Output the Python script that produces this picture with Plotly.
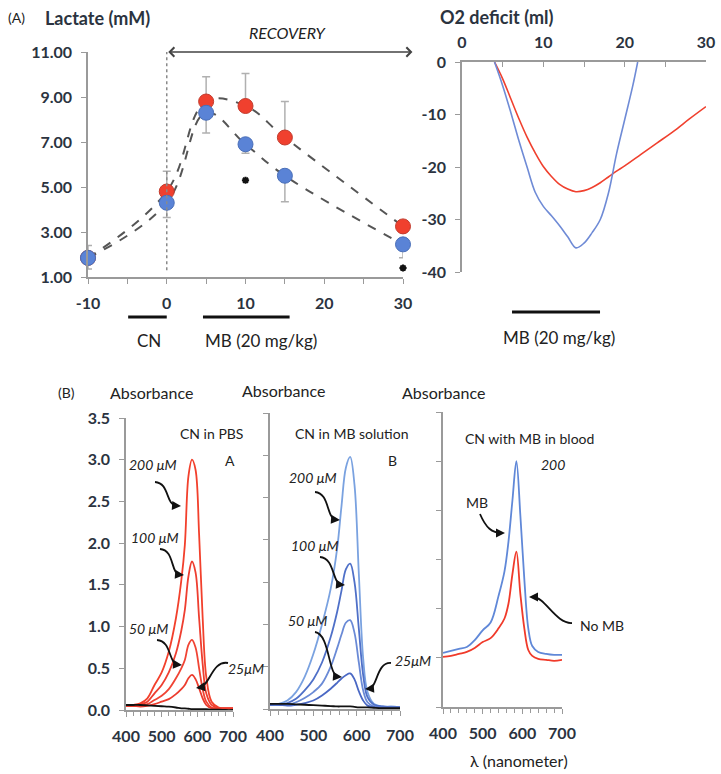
import math
import plotly.graph_objects as go

W, H = 721, 774

# ---------------- Panel A: lactate ----------------
time_min = [-10, 0, 5, 10, 15, 30]
lactate_no_mb = [1.85, 4.8, 8.8, 8.6, 7.2, 3.25]
lactate_mb = [1.85, 4.3, 8.3, 6.9, 5.5, 2.45]
err_no_mb_up = [0.55, 0.9, 1.1, 1.45, 1.6, 0.15]
err_mb_down = [0.5, 0.65, 0.9, 0.4, 1.15, 0.6]
signif_time = [10, 30]
signif_level = [5.3, 1.4]
lactate_ticks = [1, 3, 5, 7, 9, 11]
time_ticks = [-10, 0, 10, 20, 30]
time_ticktext = ["-10", "0", "10", "20", "30"]

# ---------------- Panel A: O2 deficit ----------------
o2_time_no_mb = [4, 5, 6, 7, 8, 9, 10, 11, 12, 13, 14, 15, 16, 17, 18, 19, 20, 22, 24, 26, 28, 30]
o2_no_mb = [0, -3.2, -7, -10.8, -14.3, -17.3, -19.9, -21.8, -23.3, -24.2, -24.7, -24.5,
            -23.9, -23.0, -21.9, -20.8, -19.8, -17.6, -15.4, -13.2, -10.8, -8.5]
o2_time_mb = [4, 5, 6, 7, 8, 9, 10, 11, 12, 13, 14, 15, 16, 17, 18, 19, 20, 21, 21.6]
o2_mb = [0, -4.5, -9.6, -15, -20, -24.8, -27.5, -29.3, -31.2, -33.3, -35.4, -34.5,
         -32.5, -30, -25, -17.5, -11, -4.5, 0]
o2_xticks = [0, 10, 20, 30]
o2_yticks = [0, -10, -20, -30, -40]
o2_yticktext = ["0", "-10", "-20", "-30", "-40"]

# ---------------- Panel B: spectra ----------------
wavelength = [400, 420, 440, 460, 480, 500, 520, 540, 555, 565, 575, 585, 595, 605, 615, 625, 640, 660, 680, 700]
pbs_200 = [0.05, 0.06, 0.08, 0.14, 0.30, 0.45, 0.70, 1.10, 1.55, 1.98, 2.80, 3.00, 2.88, 2.10, 1.10, 0.40, 0.10, 0.03, 0.02, 0.02]
pbs_100 = [0.05, 0.05, 0.07, 0.10, 0.20, 0.30, 0.45, 0.68, 0.95, 1.20, 1.60, 1.78, 1.65, 1.10, 0.55, 0.20, 0.06, 0.02, 0.02, 0.02]
pbs_50 = [0.05, 0.05, 0.05, 0.07, 0.12, 0.17, 0.25, 0.38, 0.50, 0.60, 0.78, 0.84, 0.75, 0.50, 0.25, 0.10, 0.03, 0.02, 0.02, 0.02]
pbs_25 = [0.05, 0.05, 0.04, 0.05, 0.07, 0.10, 0.13, 0.19, 0.25, 0.30, 0.38, 0.42, 0.37, 0.26, 0.14, 0.06, 0.02, 0.02, 0.02, 0.02]
pbs_blank = [0.06, 0.06, 0.06, 0.055, 0.05, 0.045, 0.04, 0.03, 0.02, 0.02, 0.015, 0.01, 0.01, 0.01, 0.01, 0.01, 0.005, 0.005, 0.0, 0.0]

mbs_200 = [0.05, 0.06, 0.10, 0.20, 0.38, 0.65, 1.00, 1.42, 1.90, 2.40, 2.85, 2.98, 2.65, 1.60, 0.60, 0.20, 0.06, 0.03, 0.03, 0.02]
mbs_100 = [0.05, 0.05, 0.07, 0.12, 0.22, 0.35, 0.55, 0.85, 1.15, 1.40, 1.65, 1.72, 1.50, 0.95, 0.40, 0.14, 0.05, 0.03, 0.02, 0.02]
mbs_50 = [0.05, 0.05, 0.05, 0.08, 0.13, 0.20, 0.30, 0.50, 0.72, 0.88, 1.02, 1.05, 0.90, 0.55, 0.22, 0.08, 0.03, 0.02, 0.02, 0.02]
mbs_25 = [0.05, 0.05, 0.04, 0.05, 0.07, 0.10, 0.16, 0.24, 0.31, 0.36, 0.40, 0.42, 0.35, 0.21, 0.10, 0.04, 0.02, 0.02, 0.02, 0.02]
mbs_blank = [0.06, 0.06, 0.06, 0.055, 0.05, 0.045, 0.04, 0.035, 0.03, 0.03, 0.03, 0.03, 0.025, 0.02, 0.02, 0.02, 0.015, 0.01, 0.01, 0.01]

blood_mb = [0.55, 0.57, 0.59, 0.61, 0.68, 0.78, 0.86, 1.13, 1.38, 1.68, 2.10, 2.50, 1.95, 1.30, 0.80, 0.62, 0.56, 0.54, 0.53, 0.53]
blood_no_mb = [0.51, 0.52, 0.54, 0.56, 0.60, 0.66, 0.70, 0.80, 0.90, 1.05, 1.35, 1.58, 1.15, 0.80, 0.58, 0.52, 0.49, 0.48, 0.47, 0.48]

abs_ticks = [0, 0.5, 1.0, 1.5, 2.0, 2.5, 3.0, 3.5]
wl_ticks = [400, 500, 600, 700]

# ---------------- colours / fonts ----------------
RED = "#f0402e"
BLUE = "#5a83d6"
FONT = "Lato"
TXT = "#222222"
TICKTXT = "#2b3340"


def px(x):
    return x / W


def py(y):
    return 1 - y / H


fig = go.Figure()

# ---- Panel A lactate ----
for ys in (lactate_no_mb, lactate_mb):
    fig.add_trace(go.Scatter(x=time_min, y=ys, mode="lines",
                             line=dict(color="#555", width=2, dash="dash", shape="spline", smoothing=1.1),
                             xaxis="x", yaxis="y", showlegend=False, hoverinfo="skip"))
fig.add_trace(go.Scatter(x=time_min, y=lactate_no_mb, mode="markers",
                         marker=dict(size=15, color=RED, line=dict(color="#c23a2c", width=1)),
                         error_y=dict(type="data", symmetric=False, array=err_no_mb_up, arrayminus=[0] * 6,
                                      color="#b0b0b0", thickness=1.5, width=4),
                         xaxis="x", yaxis="y", showlegend=False, cliponaxis=False))
fig.add_trace(go.Scatter(x=time_min, y=lactate_mb, mode="markers",
                         marker=dict(size=15, color=BLUE, line=dict(color="#4a6fb8", width=1)),
                         error_y=dict(type="data", symmetric=False, array=[0] * 6, arrayminus=err_mb_down,
                                      color="#b0b0b0", thickness=1.5, width=4),
                         xaxis="x", yaxis="y", showlegend=False, cliponaxis=False))
fig.add_trace(go.Scatter(x=signif_time, y=signif_level, mode="markers",
                         marker=dict(symbol="asterisk-open", size=6, color="#111", line=dict(width=2, color="#111")),
                         xaxis="x", yaxis="y", showlegend=False, cliponaxis=False))

# ---- Panel A O2 deficit ----
fig.add_trace(go.Scatter(x=o2_time_no_mb, y=o2_no_mb, mode="lines", line=dict(color=RED, width=1.6, shape="spline"),
                         xaxis="x2", yaxis="y2", showlegend=False))
fig.add_trace(go.Scatter(x=o2_time_mb, y=o2_mb, mode="lines", line=dict(color="#6f8bd6", width=1.6, shape="spline"),
                         xaxis="x2", yaxis="y2", showlegend=False))

# ---- Panel B spectra ----
for ys, col in [(pbs_200, "#f2402c"), (pbs_100, "#ee3e30"), (pbs_50, "#f04434"), (pbs_25, "#ec3c2e")]:
    fig.add_trace(go.Scatter(x=wavelength, y=ys, mode="lines", line=dict(color=col, width=1.8, shape="spline"),
                             xaxis="x3", yaxis="y3", showlegend=False))
fig.add_trace(go.Scatter(x=wavelength, y=pbs_blank, mode="lines", line=dict(color="#111", width=1.8, shape="spline"),
                         xaxis="x3", yaxis="y3", showlegend=False))

for ys, col in [(mbs_200, "#7aa2e0"), (mbs_100, "#4f70c8"), (mbs_50, "#6a8ad6"), (mbs_25, "#4a68c4")]:
    fig.add_trace(go.Scatter(x=wavelength, y=ys, mode="lines", line=dict(color=col, width=1.8, shape="spline"),
                             xaxis="x4", yaxis="y4", showlegend=False))
fig.add_trace(go.Scatter(x=wavelength, y=mbs_blank, mode="lines", line=dict(color="#111", width=1.8, shape="spline"),
                         xaxis="x4", yaxis="y4", showlegend=False))

fig.add_trace(go.Scatter(x=wavelength, y=blood_no_mb, mode="lines", line=dict(color="#f03a2a", width=1.8, shape="spline"),
                         xaxis="x5", yaxis="y5", showlegend=False))
fig.add_trace(go.Scatter(x=wavelength, y=blood_mb, mode="lines", line=dict(color="#6088d8", width=1.8, shape="spline"),
                         xaxis="x5", yaxis="y5", showlegend=False))

tickfont = dict(family=FONT, size=16, color=TICKTXT, weight="bold")
axline = dict(showline=True, linecolor="#9a9a9a", linewidth=1.5, showgrid=False, zeroline=False, automargin=False,
              ticks="outside", tickcolor="#9a9a9a", ticklen=5, tickwidth=1.2, tickfont=tickfont,
              ticklabelstandoff=6)
minor5 = dict(dtick=5, ticks="outside", ticklen=5, tickcolor="#9a9a9a")
minor20 = dict(dtick=20, ticks="outside", ticklen=4, tickcolor="#9a9a9a")

fig.update_layout(
    width=W, height=H,
    margin=dict(l=0, r=0, t=0, b=0),
    paper_bgcolor="white", plot_bgcolor="white",
    font=dict(family=FONT, color=TXT),
    xaxis=dict(domain=[px(88), px(403)], range=[-10, 30], anchor="y", tickvals=time_ticks, ticktext=time_ticktext,
               minor=minor5, **axline),
    yaxis=dict(domain=[py(277), py(52)], range=[1, 11], anchor="x", tickvals=lactate_ticks, tickformat=".2f", **axline),
    xaxis2=dict(domain=[px(462), px(706)], range=[0, 30], anchor="y2", side="top", tickvals=o2_xticks,
                minor=dict(dtick=5, ticks="inside", ticklen=5, tickcolor="#9a9a9a"),
                **{**axline, "ticks": "inside"}),
    yaxis2=dict(domain=[py(272), py(62)], range=[-40, 0], anchor="x2", tickvals=o2_yticks, ticktext=o2_yticktext, **axline),
    xaxis3=dict(domain=[px(126), px(233)], range=[400, 700], anchor="y3", tickvals=wl_ticks, minor=minor20, **axline),
    yaxis3=dict(domain=[py(710), py(418)], range=[0, 3.5], anchor="x3", tickvals=abs_ticks, tickformat=".1f", **axline),
    xaxis4=dict(domain=[px(270), px(400)], range=[400, 700], anchor="y4", tickvals=wl_ticks, minor=minor20, **axline),
    yaxis4=dict(domain=[py(709), py(413)], range=[0, 3.5], anchor="x4", tickvals=abs_ticks, showticklabels=False, **axline),
    xaxis5=dict(domain=[px(443), px(562)], range=[400, 700], anchor="y5", tickvals=wl_ticks, minor=minor20, **axline),
    yaxis5=dict(domain=[py(707), py(412)], range=[0, 3.0], anchor="x5", dtick=0.5, showticklabels=False, **axline),
)

shapes = []
annotations = []

# dotted vertical line at time 0
shapes.append(dict(type="line", xref="x", yref="y", x0=0, x1=0, y0=1.3, y1=11,
                   line=dict(color="#8a8a8a", width=1.5, dash="dot")))
# treatment bars
for x0, x1, xr, ypix in [(-4.9, 0, "x", 317), (4.6, 15.6, "x", 317), (6.15, 16.97, "x2", 312)]:
    shapes.append(dict(type="line", xref=xr, yref="paper", x0=x0, x1=x1, y0=py(ypix), y1=py(ypix),
                       line=dict(color="#111", width=3)))

# RECOVERY arrow
annotations.append(dict(x=31.2, y=11, ax=0, ay=11, xref="x", yref="y", axref="x", ayref="y", text="",
                        showarrow=True, arrowhead=4, startarrowhead=4, arrowside="end+start",
                        arrowsize=1.2, startarrowsize=1.2, arrowwidth=1.5, arrowcolor="#444"))


def label(x, y, text, size=13, italic=False, color=TXT, weight="normal"):
    annotations.append(dict(x=px(x), y=py(y), xref="paper", yref="paper", text=text, showarrow=False,
                            xanchor="center", yanchor="middle",
                            font=dict(family=FONT, size=size, color=color, weight=weight,
                                      style="italic" if italic else "normal")))


label(16, 17, "(A)", 14)
label(97, 18, "Lactate (mM)", 18, weight="bold", color=TICKTXT)
label(288, 32, "RECOVERY", 16, italic=True)
label(497, 17, "O2 deficit (ml)", 18, weight="bold", color=TICKTXT)
label(149, 340, "CN", 17)
label(261, 340, "MB (20 mg/kg)", 17)
label(559, 337, "MB (20 mg/kg)", 17)

label(66, 392, "(B)", 14)
label(151, 392, "Absorbance", 16)
label(283, 390, "Absorbance", 16)
label(444, 392, "Absorbance", 16)
label(519, 760, "λ (nanometer)", 16)

label(211, 433, "CN in PBS", 14)
label(230, 460, "A", 14)
label(152, 465, "200 μM", 14, italic=True)
label(154, 537, "100 μM", 14, italic=True)
label(148, 628, "50 μM", 14, italic=True)
label(246, 668, "25μM", 14, italic=True)

label(352, 434, "CN in MB solution", 14)
label(392, 460, "B", 14)
label(312, 477, "200 μM", 14, italic=True)
label(314, 545, "100 μM", 14, italic=True)
label(307, 620, "50 μM", 14, italic=True)
label(413, 660, "25μM", 14, italic=True)

label(529, 438, "CN with MB in blood", 14)
label(553, 465, "200", 14, italic=True)
label(477, 502, "MB", 14)
label(602, 625, "No MB", 14)

curly = [
    (155, 482, 170, 483, 165, 505, 181, 506),
    (160, 549, 175, 550, 170, 574, 184, 575),
    (157, 640, 172, 641, 168, 664, 182, 665),
    (228, 663, 212, 660, 210, 686, 196, 688),
    (315, 492, 330, 493, 326, 519, 340, 520),
    (320, 557, 335, 558, 332, 584, 345, 585),
    (315, 632, 330, 634, 328, 676, 342, 677),
    (391, 663, 376, 662, 378, 688, 365, 689),
    (480, 514, 486, 528, 492, 533, 505, 533),
    (572, 623, 556, 624, 545, 597, 529, 597),
]
for sx, sy, c1x, c1y, c2x, c2y, tx, ty in curly:
    path = (f"M {px(sx)},{py(sy)} C {px(c1x)},{py(c1y)} {px(c2x)},{py(c2y)} "
            f"{px(tx - (tx - c2x) * 0.25)},{py(ty - (ty - c2y) * 0.25)}")
    shapes.append(dict(type="path", xref="paper", yref="paper", path=path,
                       line=dict(color="#111", width=1.8)))
    dx, dy = c2x - tx, c2y - ty
    n = math.hypot(dx, dy) or 1
    annotations.append(dict(x=px(tx), y=py(ty), xref="paper", yref="paper", text="",
                            showarrow=True, ax=dx / n * 7, ay=dy / n * 7, arrowhead=2,
                            arrowsize=1, arrowwidth=1.8, arrowcolor="#111", standoff=0))

fig.update_layout(shapes=shapes, annotations=annotations)
fig.write_html("out.html", config={"displayModeBar": False},
               post_script="document.body.style.margin='0px';document.body.style.padding='0px';")
